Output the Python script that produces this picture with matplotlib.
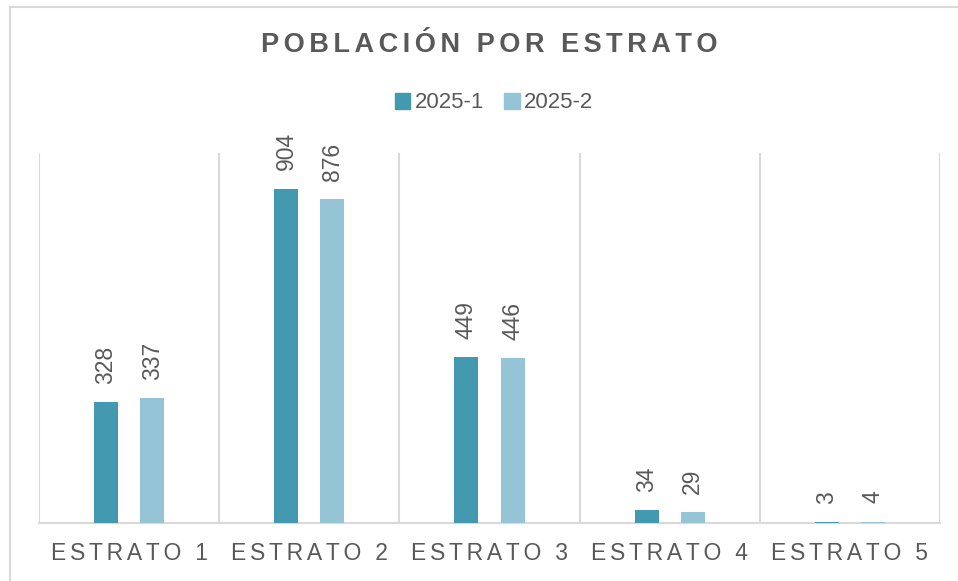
import matplotlib.pyplot as plt
from matplotlib.patches import Patch, Rectangle

plt.rcParams['font.family'] = ['Liberation Sans', 'DejaVu Sans']

# Data
categories = ["ESTRATO 1", "ESTRATO 2", "ESTRATO 3", "ESTRATO 4", "ESTRATO 5"]
series_names = ["2025-1", "2025-2"]
values_2025_1 = [328, 904, 449, 34, 3]
values_2025_2 = [337, 876, 446, 29, 4]

dark = "#4299B0"
light = "#94C4D6"
gray_text = "#595959"
grid_gray = "#D9D9D9"


def spaced(s, sep="\u2006"):
    # fake letter spacing with narrow spaces
    return sep.join(s)


fig = plt.figure(figsize=(9.58, 5.81), dpi=100)

# chart border (only top and left visible in the reference)
fig.patches.append(Rectangle((10 / 958, -0.1), 1.2, 1 - 7 / 581 + 0.1,
                             transform=fig.transFigure, fill=False,
                             edgecolor=grid_gray, linewidth=1.5))

ax = fig.add_axes([39 / 958, 1 - 523 / 581, 901 / 958, 370 / 581])

x = list(range(len(categories)))
w = 0.133
off = 0.128
b1 = ax.bar([i - off for i in x], values_2025_1, width=w, color=dark, zorder=3)
b2 = ax.bar([i + off for i in x], values_2025_2, width=w, color=light, zorder=3)

for bars, vals in ((b1, values_2025_1), (b2, values_2025_2)):
    for rect, v in zip(bars, vals):
        ax.annotate(str(v), (rect.get_x() + rect.get_width() / 2, v),
                    xytext=(0, 13), textcoords="offset points",
                    rotation=90, ha="center", va="bottom",
                    fontsize=16.5, color=gray_text)

ax.set_xlim(-0.5, len(categories) - 0.5)
ax.set_ylim(0, 1000)

# category separators
for i in range(len(categories) + 1):
    ax.axvline(i - 0.5, color=grid_gray, linewidth=1.5, zorder=1)

ax.set_xticks(x)
ax.set_xticklabels([spaced(c) for c in categories], fontsize=16.5, color=gray_text)
ax.tick_params(axis="x", length=0, pad=13.5)
ax.set_yticks([])
for side in ("top", "left", "right"):
    ax.spines[side].set_visible(False)
ax.spines["bottom"].set_color(grid_gray)
ax.spines["bottom"].set_linewidth(1.5)

fig.text(489 / 958, 1 - 45 / 581, spaced("POBLACIÓN POR ESTRATO"),
         ha="center", va="center", fontsize=19.5, fontweight="bold",
         color=gray_text)

handles = [Patch(color=dark), Patch(color=light)]
fig.legend(handles, series_names, loc="center", bbox_to_anchor=(494 / 958, 1 - 103 / 581),
           ncol=2, frameon=False, fontsize=16, labelcolor=gray_text,
           handlelength=0.7, handleheight=0.7, handletextpad=0.2, columnspacing=0.9)

fig.savefig("out.png", dpi=100)
